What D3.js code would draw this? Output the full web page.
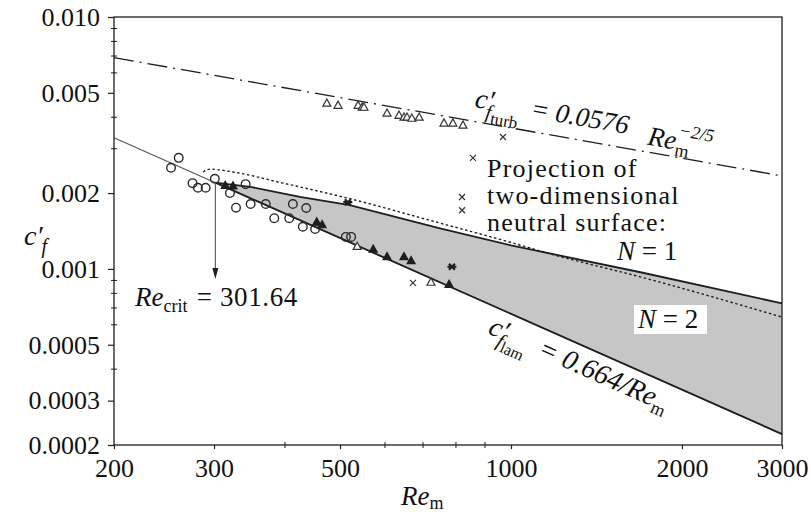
<!DOCTYPE html>
<html>
<head>
<meta charset="utf-8">
<script src="https://cdn.jsdelivr.net/npm/d3@7"></script>
<style>
  body { margin: 0; background: #fff; }
  svg { display: block; font-family: "Liberation Serif", "Times New Roman", serif; }
</style>
</head>
<body>
<div id="container"></div>
<script>
// data (Re_m on x, c'_f on y, both log)
let reCrit = 301.64;

let lamRe = [200, 301.64, 3000];
let lamCf = [0.00332, 0.0022, 0.000221];

let turbRe = [200, 3000];
let turbCf = [0.0069, 0.00234];

// N = 1 upper edge of the shaded band
let n1Re = [301.64, 350, 425, 520, 750, 1000, 1690, 3000];
let n1Cf = [0.0022, 0.00211, 0.00193, 0.00179, 0.00145, 0.00124, 0.00097, 0.00073];

// projection of two-dimensional neutral surface (dotted)
let projRe = [287, 295, 324, 397, 506, 750, 956, 1220, 1688, 3000];
let projCf = [0.002425, 0.00249, 0.002425, 0.00219, 0.00193, 0.00152, 0.00131, 0.00112, 0.00093, 0.000644];

// measurements
let circRe = [252, 260, 275, 281, 290, 301, 320, 341, 328, 348, 370, 383, 407, 413, 436, 430, 452, 512, 523];
let circCf = [0.00252, 0.00276, 0.00219, 0.0021, 0.0021, 0.00228, 0.002, 0.00217, 0.00175, 0.00181, 0.00181, 0.00159, 0.00159, 0.00181, 0.001745, 0.00147, 0.00144, 0.00134, 0.00134];

let triRe = [474, 496, 538, 547, 551, 605, 635, 648, 656, 669, 689, 762, 790, 823, 536, 723];
let triCf = [0.004556, 0.00447, 0.00447, 0.00439, 0.00439, 0.00416, 0.00408, 0.00401, 0.00401, 0.00397, 0.00401, 0.0038, 0.0038, 0.00373, 0.00123, 0.000887];

let ftriRe = [314, 324, 455, 465, 572, 605, 648, 667, 778];
let ftriCf = [0.00215, 0.00214, 0.00154, 0.0015, 0.0012, 0.00112, 0.00112, 0.00108, 0.00087];

let crossRe = [968, 857, 820, 820, 672];
let crossCf = [0.00334, 0.00276, 0.00193, 0.00171, 0.00088];

let starRe = [516, 787];
let starCf = [0.00184, 0.00102];

// ticks
let yTicks = [0.01, 0.005, 0.002, 0.001, 0.0005, 0.0003, 0.0002];
let yTickLabels = ["0.010", "0.005", "0.002", "0.001", "0.0005", "0.0003", "0.0002"];
let yMinor = [0.009, 0.008, 0.007, 0.006, 0.004, 0.003, 0.0009, 0.0008, 0.0007, 0.0006, 0.0004];
let xTicks = [200, 300, 500, 1000, 2000, 3000];
let xMinor = [400, 600, 700, 800, 900];

let w = 811;
let h = 514;
let pLeft = 114, pRight = 782, pTop = 17, pBottom = 445;
let ink = "#1e1e1e";

let viz = d3.select("#container")
  .append("svg")
    .attr("width", w)
    .attr("height", h)
;

let x = d3.scaleLog().domain([200, 3000]).range([pLeft, pRight]);
let y = d3.scaleLog().domain([0.0002, 0.01]).range([pBottom, pTop]);

function pts(a, b){ return a.map((d, i) => [d, b[i]]); }

let line = d3.line().x(d => x(d[0])).y(d => y(d[1]));
let curvy = d3.line().x(d => x(d[0])).y(d => y(d[1])).curve(d3.curveMonotoneX);

// shaded band between N=1 and the laminar line
let lamPart = pts(lamRe, lamCf).filter(d => d[0] >= reCrit);
let band = pts(n1Re, n1Cf).concat(lamPart.slice().reverse());
viz.append("path")
  .attr("d", line(band) + "Z")
  .attr("fill", "#c6c6c6");

// laminar line, thin left of Re_crit
viz.append("path")
  .attr("d", line(pts(lamRe, lamCf)))
  .attr("fill", "none").attr("stroke", "#555").attr("stroke-width", 1.1);
viz.append("path")
  .attr("d", line(lamPart))
  .attr("fill", "none").attr("stroke", ink).attr("stroke-width", 1.8);

// N = 1
viz.append("path")
  .attr("d", line(pts(n1Re, n1Cf)))
  .attr("fill", "none").attr("stroke", ink).attr("stroke-width", 1.8);

// dotted projection
viz.append("path")
  .attr("d", curvy(pts(projRe, projCf)))
  .attr("fill", "none").attr("stroke", ink).attr("stroke-width", 1.4)
  .attr("stroke-dasharray", "2.5,2.5");

// turbulent dash-dot
viz.append("path")
  .attr("d", line(pts(turbRe, turbCf)))
  .attr("fill", "none").attr("stroke", ink).attr("stroke-width", 1.3)
  .attr("stroke-dasharray", "20,6,2,6");

// axes
let yAxis = d3.axisLeft(y).tickValues(yTicks)
  .tickFormat((d, i) => yTickLabels[i]).tickSize(6).tickPadding(8);
let yg = viz.append("g").attr("transform", "translate(" + pLeft + ",0)").call(yAxis);

let xAxis = d3.axisBottom(x).tickValues(xTicks)
  .tickFormat(d3.format("d")).tickSize(4).tickPadding(10);
let xg = viz.append("g").attr("transform", "translate(0," + pBottom + ")").call(xAxis);

[yg, xg].forEach(g => {
  g.attr("font-family", null).attr("font-size", null);
  g.select(".domain").remove();
  g.selectAll("line").attr("stroke", ink).attr("stroke-width", 1.2);
  g.selectAll("text").attr("font-size", 26).attr("fill", "#111");
});

viz.append("g").selectAll("line").data(yMinor).enter().append("line")
  .attr("x1", pLeft - 3).attr("x2", pLeft + 3)
  .attr("y1", d => y(d)).attr("y2", d => y(d))
  .attr("stroke", ink).attr("stroke-width", 1);
viz.append("g").selectAll("line").data(xMinor).enter().append("line")
  .attr("y1", pBottom - 3).attr("y2", pBottom + 3)
  .attr("x1", d => x(d)).attr("x2", d => x(d))
  .attr("stroke", ink).attr("stroke-width", 1);

viz.append("rect")
  .attr("x", pLeft).attr("y", pTop)
  .attr("width", pRight - pLeft).attr("height", pBottom - pTop)
  .attr("fill", "none").attr("stroke", ink).attr("stroke-width", 1.3);

// markers
let marks = viz.append("g");
marks.selectAll(".circ").data(pts(circRe, circCf)).enter().append("circle")
  .attr("cx", d => x(d[0])).attr("cy", d => y(d[1])).attr("r", 4.3)
  .attr("fill", "none").attr("stroke", "#2a2a2a").attr("stroke-width", 1.4);

function tri(d){
  let cx = x(d[0]), cy = y(d[1]), s = 4;
  return "M" + cx + "," + (cy - s) + "L" + (cx + s) + "," + (cy + s * 0.8) + "L" + (cx - s) + "," + (cy + s * 0.8) + "Z";
}
marks.selectAll(".tri").data(pts(triRe, triCf)).enter().append("path")
  .attr("d", tri).attr("fill", "#fff").attr("stroke", "#333").attr("stroke-width", 1.2);
marks.selectAll(".ftri").data(pts(ftriRe, ftriCf)).enter().append("path")
  .attr("d", tri).attr("fill", ink).attr("stroke", ink).attr("stroke-width", 1.2);

function cross(d){
  let cx = x(d[0]), cy = y(d[1]), s = 3;
  return "M" + (cx - s) + "," + (cy - s) + "L" + (cx + s) + "," + (cy + s) +
    "M" + (cx + s) + "," + (cy - s) + "L" + (cx - s) + "," + (cy + s);
}
marks.selectAll(".cross").data(pts(crossRe, crossCf)).enter().append("path")
  .attr("d", cross).attr("fill", "none").attr("stroke", "#333").attr("stroke-width", 1.2);
marks.selectAll(".star").data(pts(starRe, starCf)).enter().append("path")
  .attr("d", d => cross(d) + "M" + (x(d[0]) - 4.5) + "," + y(d[1]) + "h9")
  .attr("fill", "none").attr("stroke", ink).attr("stroke-width", 2.2);

// Re_crit arrow
let ax = x(reCrit);
viz.append("line")
  .attr("x1", ax).attr("x2", ax).attr("y1", y(0.0022)).attr("y2", 272)
  .attr("stroke", "#555").attr("stroke-width", 1.1);
viz.append("path")
  .attr("d", "M" + (ax - 3) + ",268L" + (ax + 3) + ",268L" + ax + ",279Z")
  .attr("fill", ink);

// texts
let t = viz.append("g").attr("fill", "#111");

let tc = t.append("text").attr("x", 135).attr("y", 306).attr("font-size", 27);
tc.append("tspan").attr("font-style", "italic").text("Re");
tc.append("tspan").attr("font-size", 18).attr("dy", 6).text("crit");
tc.append("tspan").attr("dy", -6).attr("dx", 2).attr("letter-spacing", 0.6).text(" = 301.64");

let proj = ["Projection of", "two-dimensional", "neutral surface:"];
t.selectAll(".proj").data(proj).enter().append("text")
  .attr("x", 487).attr("y", (d, i) => 177 + i * 27)
  .attr("font-size", 26).attr("letter-spacing", 1.2)
  .text(d => d);

let n1 = t.append("text").attr("x", 617).attr("y", 260).attr("font-size", 27);
n1.append("tspan").attr("font-style", "italic").text("N");
n1.append("tspan").text(" = 1");

viz.append("rect").attr("x", 634).attr("y", 305).attr("width", 73).attr("height", 29).attr("fill", "#fff");
let n2 = viz.append("text").attr("x", 638).attr("y", 328).attr("font-size", 27).attr("fill", "#111");
n2.append("tspan").attr("font-style", "italic").text("N");
n2.append("tspan").text(" = 2");

// turbulent formula along the dash-dot line
let tt = t.append("text").attr("transform", "translate(474,107) rotate(10)").attr("font-size", 28);
tt.append("tspan").attr("font-style", "italic").text("c\u2032");
tt.append("tspan").attr("font-style", "italic").attr("font-size", 20).attr("dx", -6).attr("dy", 9).text("f");
tt.append("tspan").attr("font-size", 17).attr("dy", 5).text("turb");
tt.append("tspan").attr("font-style", "italic").attr("font-size", 27).attr("dx", 11).attr("dy", -14).text("= 0.0576");
tt.append("tspan").attr("font-style", "italic").attr("font-size", 27).attr("dx", 21).attr("dy", 7).text("Re");
tt.append("tspan").attr("font-size", 18).attr("dy", 6).text("m");
tt.append("tspan").attr("font-style", "italic").attr("font-size", 18).attr("dx", -13).attr("dy", -20).text("\u22122/5");

// laminar formula under the laminar line
let tl = t.append("text").attr("transform", "translate(487,333) rotate(24)").attr("font-size", 28);
tl.append("tspan").attr("font-style", "italic").text("c\u2032");
tl.append("tspan").attr("font-style", "italic").attr("font-size", 20).attr("dx", -6).attr("dy", 8).text("f");
tl.append("tspan").attr("font-size", 16).attr("dy", 4).text("lam");
tl.append("tspan").attr("font-style", "italic").attr("dx", 12).attr("dy", -12).text("= 0.664/");
tl.append("tspan").attr("font-style", "italic").text("Re");
tl.append("tspan").attr("font-size", 18).attr("dy", 6).text("m");

// axis titles
let yl = t.append("text").attr("x", 24).attr("y", 245).attr("font-size", 28);
yl.append("tspan").attr("font-style", "italic").text("c\u2032");
yl.append("tspan").attr("font-style", "italic").attr("font-size", 20).attr("dx", -1).attr("dy", 8).text("f");

let xl = t.append("text").attr("x", 401).attr("y", 505).attr("font-size", 27);
xl.append("tspan").attr("font-style", "italic").text("Re");
xl.append("tspan").attr("font-size", 18).attr("dy", 4).text("m");
</script>
</body>
</html>
